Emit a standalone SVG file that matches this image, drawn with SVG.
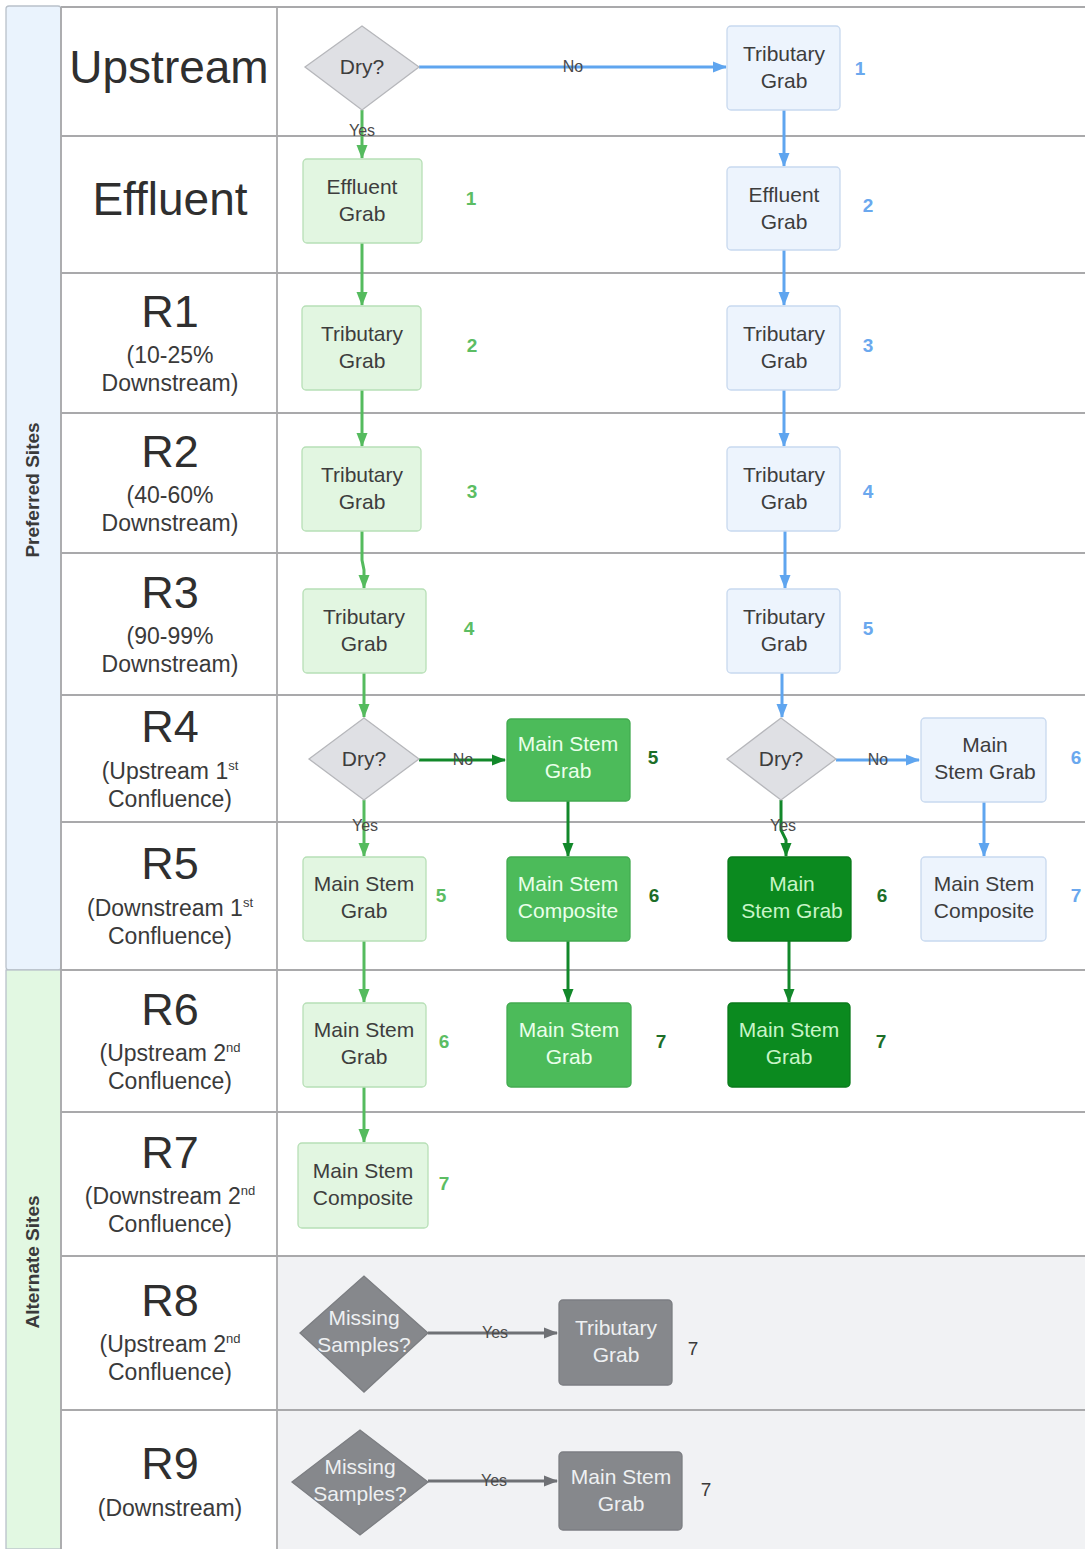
<svg xmlns="http://www.w3.org/2000/svg" width="1085" height="1549" viewBox="0 0 1085 1549">
<defs>
<style>
text{font-family:"Liberation Sans",Arial,sans-serif;}
.lbl{font-size:46px;fill:#2f2f2f;text-anchor:middle;}
.rl{font-size:45px;fill:#2f2f2f;text-anchor:middle;}
.sub{font-size:23px;fill:#3a3a3a;text-anchor:middle;}
.sup{font-size:13px;}
.band{font-size:19px;font-weight:bold;fill:#3a3a3a;text-anchor:middle;}
.grid{stroke:#a9a9ab;stroke-width:1.8;fill:none;}
.nt{font-size:21px;text-anchor:middle;fill:#3d3d3d;}
.ntw{font-size:21px;text-anchor:middle;fill:#eaffea;}
.ntd{font-size:21px;text-anchor:middle;fill:#c8f5c8;}
.ntg{font-size:21px;text-anchor:middle;fill:#eef0f2;}
.lg{fill:#e2f6e1;stroke:#b7dfb6;stroke-width:1.3;}
.lb{fill:#edf4fd;stroke:#c8d9ef;stroke-width:1.3;}
.mg{fill:#4cbb5a;stroke:#43ab50;stroke-width:1.3;}
.dg{fill:#0b8a1f;stroke:#0a7a1b;stroke-width:1.3;}
.gy{fill:#86888c;stroke:#7c7e82;stroke-width:1.3;}
.dia{fill:#dfe0e4;stroke:#b6b7bb;stroke-width:1.3;}
.num{font-size:19px;font-weight:bold;text-anchor:middle;}
.nlg{fill:#5cbd63;}
.nb{fill:#6aa8ee;}
.nd{fill:#1d6e28;}
.ng{fill:#3a3a3a;font-weight:normal;}
.cg{stroke:#55bb5e;stroke-width:3;fill:none;marker-end:url(#ag);}
.cd{stroke:#12882a;stroke-width:3;fill:none;marker-end:url(#ad);}
.cb{stroke:#5fa5ef;stroke-width:3;fill:none;marker-end:url(#ab);}
.cy{stroke:#6f7175;stroke-width:3;fill:none;marker-end:url(#ay);}
.yn{font-size:16px;fill:#4a4a4a;text-anchor:middle;}
</style>
<marker id="ag" markerWidth="14" markerHeight="12" refX="13" refY="6" orient="auto" markerUnits="userSpaceOnUse"><path d="M0,0.5 L14,6 L0,11.5 z" fill="#55bb5e"/></marker>
<marker id="ad" markerWidth="14" markerHeight="12" refX="13" refY="6" orient="auto" markerUnits="userSpaceOnUse"><path d="M0,0.5 L14,6 L0,11.5 z" fill="#12882a"/></marker>
<marker id="ab" markerWidth="14" markerHeight="12" refX="13" refY="6" orient="auto" markerUnits="userSpaceOnUse"><path d="M0,0.5 L14,6 L0,11.5 z" fill="#5fa5ef"/></marker>
<marker id="ay" markerWidth="14" markerHeight="12" refX="13" refY="6" orient="auto" markerUnits="userSpaceOnUse"><path d="M0,0.5 L14,6 L0,11.5 z" fill="#6f7175"/></marker>
</defs>
<rect x="0" y="0" width="1085" height="1549" fill="#ffffff"/>

<g id="background">
<rect x="277" y="1256" width="808" height="293" fill="#f1f2f4"/>
<rect x="6" y="6" width="55" height="964" rx="3" fill="#eaf3fd" stroke="#b9c1ca" stroke-width="1.3"/>
<rect x="6" y="970" width="55" height="579" fill="#e2f8e2" stroke="#b9c1ca" stroke-width="1.3"/>
<text class="band" transform="translate(39,490) rotate(-90)">Preferred Sites</text>
<text class="band" transform="translate(39,1262) rotate(-90)">Alternate Sites</text>
<path class="grid" d="M61,7 H1085 M61,136 H1085 M61,273 H1085 M61,413 H1085 M61,553 H1085 M61,695 H1085 M61,822 H1085 M61,970 H1085 M61,1112 H1085 M61,1256 H1085 M61,1410 H1085 M61,7 V1549 M277,7 V1549"/>
</g>

<g id="row-labels">
<text class="lbl" x="169" y="83">Upstream</text>
<text class="lbl" x="170" y="215">Effluent</text>
<text class="rl" x="170" y="327">R1</text>
<text class="sub" x="170" y="363">(10-25%</text>
<text class="sub" x="170" y="391">Downstream)</text>
<text class="rl" x="170" y="467">R2</text>
<text class="sub" x="170" y="503">(40-60%</text>
<text class="sub" x="170" y="531">Downstream)</text>
<text class="rl" x="170" y="608">R3</text>
<text class="sub" x="170" y="644">(90-99%</text>
<text class="sub" x="170" y="672">Downstream)</text>
<text class="rl" x="170" y="742">R4</text>
<text class="sub" x="170" y="779">(Upstream 1<tspan class="sup" dy="-9">st</tspan></text>
<text class="sub" x="170" y="807">Confluence)</text>
<text class="rl" x="170" y="879">R5</text>
<text class="sub" x="170" y="916">(Downstream 1<tspan class="sup" dy="-9">st</tspan></text>
<text class="sub" x="170" y="944">Confluence)</text>
<text class="rl" x="170" y="1025">R6</text>
<text class="sub" x="170" y="1061">(Upstream 2<tspan class="sup" dy="-9">nd</tspan></text>
<text class="sub" x="170" y="1089">Confluence)</text>
<text class="rl" x="170" y="1168">R7</text>
<text class="sub" x="170" y="1204">(Downstream 2<tspan class="sup" dy="-9">nd</tspan></text>
<text class="sub" x="170" y="1232">Confluence)</text>
<text class="rl" x="170" y="1316">R8</text>
<text class="sub" x="170" y="1352">(Upstream 2<tspan class="sup" dy="-9">nd</tspan></text>
<text class="sub" x="170" y="1380">Confluence)</text>
<text class="rl" x="170" y="1479">R9</text>
<text class="sub" x="170" y="1516">(Downstream)</text>
</g>

<g id="connectors">
<path class="cb" d="M419,67 H726"/>
<text class="yn" x="573" y="72">No</text>
<path class="cg" d="M362,110 V158"/>
<text class="yn" x="362" y="136">Yes</text>
<path class="cb" d="M784,110 V166"/>
<path class="cg" d="M362,243 V305"/>
<path class="cb" d="M784,250 V305"/>
<path class="cg" d="M362,390 V446"/>
<path class="cb" d="M784,390 V446"/>
<path class="cg" d="M362,531 V560 L364,570 V588"/>
<path class="cb" d="M785,531 V588"/>
<path class="cg" d="M364,673 V717"/>
<path class="cb" d="M782,673 V717"/>
<path class="cd" d="M419,760 H505"/>
<text class="yn" x="463" y="765">No</text>
<path class="cb" d="M836,760 H919"/>
<text class="yn" x="878" y="765">No</text>
<path class="cg" d="M364,800 V856"/>
<text class="yn" x="365" y="831">Yes</text>
<path class="cd" d="M781,800 V830 L786,840 V856"/>
<text class="yn" x="783" y="831">Yes</text>
<path class="cd" d="M568,801 V856"/>
<path class="cb" d="M984,802 V856"/>
<path class="cg" d="M364,941 V1002"/>
<path class="cd" d="M568,941 V1002"/>
<path class="cd" d="M789,941 V1002"/>
<path class="cg" d="M364,1087 V1142"/>
<path class="cy" d="M428,1333 H557"/>
<text class="yn" x="495" y="1338">Yes</text>
<path class="cy" d="M428,1481 H557"/>
<text class="yn" x="494" y="1486">Yes</text>
</g>

<g id="n-up-dry"><polygon class="dia" points="305,67 362,26 419,67 362,110"/><text class="nt" x="362" y="74">Dry?</text></g>
<g id="n-up-trib"><rect class="lb" x="727" y="26" width="113" height="84" rx="4"/><text class="nt" x="784" y="61">Tributary</text><text class="nt" x="784" y="88">Grab</text><text class="num nb" x="860" y="75">1</text></g>

<g id="n-eff-g"><rect class="lg" x="303" y="159" width="119" height="84" rx="4"/><text class="nt" x="362" y="194">Effluent</text><text class="nt" x="362" y="221">Grab</text><text class="num nlg" x="471" y="205">1</text></g>
<g id="n-eff-b"><rect class="lb" x="727" y="167" width="113" height="83" rx="4"/><text class="nt" x="784" y="202">Effluent</text><text class="nt" x="784" y="229">Grab</text><text class="num nb" x="868" y="212">2</text></g>

<g id="n-r1-g"><rect class="lg" x="302" y="306" width="119" height="84" rx="4"/><text class="nt" x="362" y="341">Tributary</text><text class="nt" x="362" y="368">Grab</text><text class="num nlg" x="472" y="352">2</text></g>
<g id="n-r1-b"><rect class="lb" x="727" y="306" width="113" height="84" rx="4"/><text class="nt" x="784" y="341">Tributary</text><text class="nt" x="784" y="368">Grab</text><text class="num nb" x="868" y="352">3</text></g>

<g id="n-r2-g"><rect class="lg" x="302" y="447" width="119" height="84" rx="4"/><text class="nt" x="362" y="482">Tributary</text><text class="nt" x="362" y="509">Grab</text><text class="num nlg" x="472" y="498">3</text></g>
<g id="n-r2-b"><rect class="lb" x="727" y="447" width="113" height="84" rx="4"/><text class="nt" x="784" y="482">Tributary</text><text class="nt" x="784" y="509">Grab</text><text class="num nb" x="868" y="498">4</text></g>

<g id="n-r3-g"><rect class="lg" x="303" y="589" width="123" height="84" rx="4"/><text class="nt" x="364" y="624">Tributary</text><text class="nt" x="364" y="651">Grab</text><text class="num nlg" x="469" y="635">4</text></g>
<g id="n-r3-b"><rect class="lb" x="727" y="589" width="113" height="84" rx="4"/><text class="nt" x="784" y="624">Tributary</text><text class="nt" x="784" y="651">Grab</text><text class="num nb" x="868" y="635">5</text></g>

<g id="n-r4-dry1"><polygon class="dia" points="309,759 364,718 419,759 364,800"/><text class="nt" x="364" y="766">Dry?</text></g>
<g id="n-r4-msg"><rect class="mg" x="507" y="719" width="123" height="82" rx="4"/><text class="ntw" x="568" y="751">Main Stem</text><text class="ntw" x="568" y="778">Grab</text><text class="num nd" x="653" y="764">5</text></g>
<g id="n-r4-dry2"><polygon class="dia" points="727,759 781,718 836,759 781,800"/><text class="nt" x="781" y="766">Dry?</text></g>
<g id="n-r4-b"><rect class="lb" x="921" y="718" width="125" height="84" rx="4"/><text class="nt" x="985" y="752">Main</text><text class="nt" x="985" y="779">Stem Grab</text><text class="num nb" x="1076" y="764">6</text></g>

<g id="n-r5-g"><rect class="lg" x="303" y="857" width="123" height="84" rx="4"/><text class="nt" x="364" y="891">Main Stem</text><text class="nt" x="364" y="918">Grab</text><text class="num nlg" x="441" y="902">5</text></g>
<g id="n-r5-mg"><rect class="mg" x="507" y="857" width="123" height="84" rx="4"/><text class="ntw" x="568" y="891">Main Stem</text><text class="ntw" x="568" y="918">Composite</text><text class="num nd" x="654" y="902">6</text></g>
<g id="n-r5-dg"><rect class="dg" x="728" y="857" width="123" height="84" rx="4"/><text class="ntd" x="792" y="891">Main</text><text class="ntd" x="792" y="918">Stem Grab</text><text class="num nd" x="882" y="902">6</text></g>
<g id="n-r5-b"><rect class="lb" x="921" y="857" width="125" height="84" rx="4"/><text class="nt" x="984" y="891">Main Stem</text><text class="nt" x="984" y="918">Composite</text><text class="num nb" x="1076" y="902">7</text></g>

<g id="n-r6-g"><rect class="lg" x="303" y="1003" width="123" height="84" rx="4"/><text class="nt" x="364" y="1037">Main Stem</text><text class="nt" x="364" y="1064">Grab</text><text class="num nlg" x="444" y="1048">6</text></g>
<g id="n-r6-mg"><rect class="mg" x="507" y="1003" width="124" height="84" rx="4"/><text class="ntw" x="569" y="1037">Main Stem</text><text class="ntw" x="569" y="1064">Grab</text><text class="num nd" x="661" y="1048">7</text></g>
<g id="n-r6-dg"><rect class="dg" x="728" y="1003" width="122" height="84" rx="4"/><text class="ntd" x="789" y="1037">Main Stem</text><text class="ntd" x="789" y="1064">Grab</text><text class="num nd" x="881" y="1048">7</text></g>

<g id="n-r7-g"><rect class="lg" x="298" y="1143" width="130" height="85" rx="4"/><text class="nt" x="363" y="1178">Main Stem</text><text class="nt" x="363" y="1205">Composite</text><text class="num nlg" x="444" y="1190">7</text></g>

<g id="n-r8-dia"><polygon class="gy" points="300,1333 364,1276 428,1333 364,1392"/><text class="ntg" x="364" y="1325">Missing</text><text class="ntg" x="364" y="1352">Samples?</text></g>
<g id="n-r8-box"><rect class="gy" x="559" y="1300" width="113" height="85" rx="4"/><text class="ntg" x="616" y="1335">Tributary</text><text class="ntg" x="616" y="1362">Grab</text><text class="num ng" x="693" y="1355">7</text></g>

<g id="n-r9-dia"><polygon class="gy" points="292,1482 360,1430 428,1482 360,1535"/><text class="ntg" x="360" y="1474">Missing</text><text class="ntg" x="360" y="1501">Samples?</text></g>
<g id="n-r9-box"><rect class="gy" x="559" y="1452" width="123" height="78" rx="4"/><text class="ntg" x="621" y="1484">Main Stem</text><text class="ntg" x="621" y="1511">Grab</text><text class="num ng" x="706" y="1496">7</text></g>
</svg>
